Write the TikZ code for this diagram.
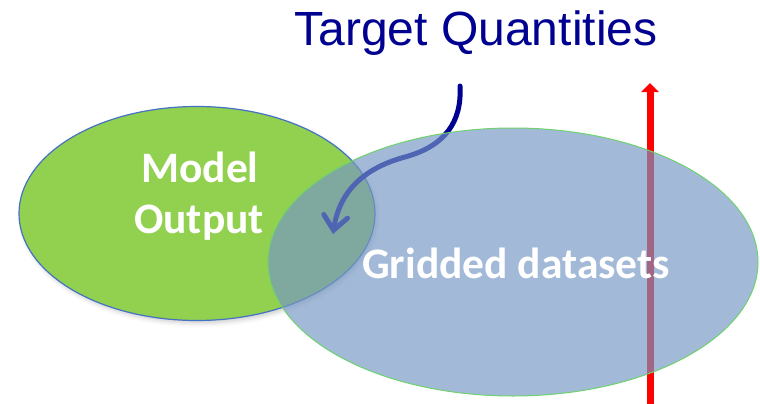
\documentclass[tikz,border=0pt]{standalone}
\usepackage{fontspec}
\setmainfont{Carlito}
\newfontfamily\titlefont{Liberation Sans}
\usetikzlibrary{arrows.meta,shapes.geometric,shadows.blur}
\definecolor{modelgreen}{RGB}{146,208,80}
\definecolor{modeledge}{RGB}{68,114,196}
\definecolor{gridblue}{RGB}{118,151,197}
\definecolor{gridedge}{RGB}{110,210,110}
\definecolor{titleblue}{RGB}{0,0,145}
\begin{document}
\begin{tikzpicture}[x=1pt,y=-1pt,
  blobbox/.style={ellipse, inner sep=0pt, outer sep=0pt},
  softshadow/.style={blur shadow={shadow xshift=2pt, shadow yshift=-3pt, shadow opacity=18, shadow blur radius=4pt}},
  whitelabel/.style={anchor=base, text=white, inner sep=0pt, font=\bfseries\fontsize{43.5}{52}\selectfont},
  pointer/.style={titleblue, line width=5pt, line cap=round,
    -{Straight Barb[length=14pt, width=24pt, line cap=round]}},
  risearrow/.style={red, line width=7pt, -{Triangle[length=9pt, width=17pt]}}
]
\useasboundingbox (0,0) rectangle (760,404);
% Model output ellipse
\node[blobbox, softshadow, draw=modeledge, line width=1.2pt, fill=modelgreen,
      minimum width=356pt, minimum height=214pt] (model) at (197,213.5) {};
% curved arrow from title
\coordinate (tqstart) at (460,86);
\coordinate (tqtip) at (333,234);
\draw[pointer] (tqstart) .. controls (462,122) and (445,146) .. (405,157)
               .. controls (368,167) and (340,188) .. (tqtip);
% red arrow
\coordinate (redbase) at (650,410);
\coordinate (redtop) at (650,83);
\draw[risearrow] (redbase) -- (redtop);
% gridded datasets ellipse (translucent)
\node[blobbox, draw=gridedge, line width=1pt, fill=gridblue, fill opacity=0.67,
      minimum width=490pt, minimum height=268pt] (grid) at (513,262) {};
% texts
\node[anchor=base, text=titleblue, inner sep=0pt,
      font=\titlefont\fontsize{48}{56}\selectfont] (title) at (476,46) {Target Quantities};
\node[whitelabel] (modeltxt) at (200,182) {Model};
\node[whitelabel] (outputtxt) at (199,233) {Output};
\node[whitelabel] (gridtxt) at (516,278) {Gridded datasets};
\end{tikzpicture}
\end{document}
